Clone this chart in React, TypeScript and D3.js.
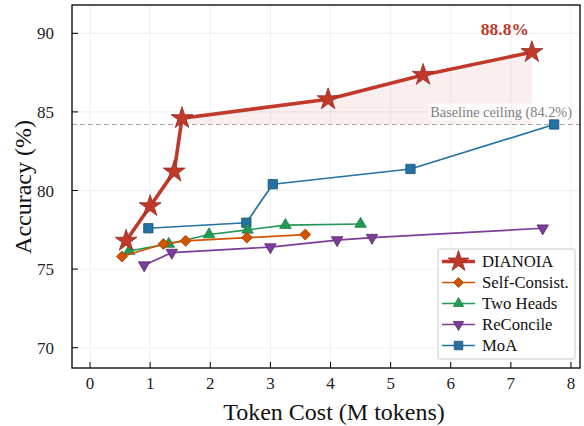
import React from "react";
import * as d3 from "d3";

const xTicks = [0, 1, 2, 3, 4, 5, 6, 7, 8];
const yTicks = [70, 75, 80, 85, 90];

const dianoiaX = [0.6, 1.0, 1.4, 1.53, 3.96, 5.54, 7.35];
const dianoiaY = [76.8, 79.0, 81.2, 84.6, 85.8, 87.35, 88.8];

const selfX = [0.53, 1.22, 1.59, 2.61, 3.58];
const selfY = [75.8, 76.6, 76.8, 77.0, 77.2];

const twoX = [0.65, 1.31, 1.98, 2.62, 3.25, 4.5];
const twoY = [76.15, 76.6, 77.2, 77.5, 77.8, 77.87];

const recX = [0.9, 1.36, 3.0, 4.11, 4.69, 7.53];
const recY = [75.25, 76.05, 76.4, 76.85, 77.0, 77.6];

const moaX = [0.97, 2.6, 3.04, 5.33, 7.72];
const moaY = [77.6, 77.95, 80.4, 81.37, 84.2];

const baseline = 84.2;

type Series = {
  name: string;
  xs: number[];
  ys: number[];
  color: string;
  edge: string;
  marker: string;
  lw: number;
  size: number;
};

const series: Series[] = [
  { name: "MoA", xs: moaX, ys: moaY, color: "#2471a3", edge: "#1a5276", marker: "square", lw: 1.7, size: 11 },
  { name: "ReConcile", xs: recX, ys: recY, color: "#7d3c98", edge: "#5b2c6f", marker: "tridown", lw: 1.7, size: 11 },
  { name: "Two Heads", xs: twoX, ys: twoY, color: "#229954", edge: "#1e8449", marker: "triup", lw: 1.7, size: 11 },
  { name: "Self-Consist.", xs: selfX, ys: selfY, color: "#d35400", edge: "#a04000", marker: "diamond", lw: 1.7, size: 11 },
  { name: "DIANOIA", xs: dianoiaX, ys: dianoiaY, color: "#c0392b", edge: "#922b21", marker: "star", lw: 3.6, size: 23 },
];

const legendOrder = ["DIANOIA", "Self-Consist.", "Two Heads", "ReConcile", "MoA"];

function markerPath(kind: string, size: number): { d: string; rot: number } {
  if (kind === "star") {
    const r = size / 2;
    return { d: d3.symbol(d3.symbolStar, (r * r) / 0.8908130915292852)() || "", rot: 0 };
  }
  if (kind === "square") {
    const s = size * 0.85;
    return { d: d3.symbol(d3.symbolSquare, s * s)() || "", rot: 0 };
  }
  if (kind === "diamond") {
    const s = size * 0.7;
    return { d: d3.symbol(d3.symbolSquare, s * s)() || "", rot: 45 };
  }
  const side = size * 1.05;
  const area = (Math.sqrt(3) / 4) * side * side;
  return { d: d3.symbol(d3.symbolTriangle, area)() || "", rot: kind === "tridown" ? 180 : 0 };
}

export default function App() {
  const W = 584;
  const H = 426;
  const left = 72;
  const right = 580;
  const top = 5;
  const bottom = 368;
  const font = "Liberation Serif, Times New Roman, serif";

  const x = d3.scaleLinear().domain([-0.3, 8.15]).range([left, right]);
  const y = d3.scaleLinear().domain([68.71, 91.8]).range([bottom, top]);

  const line = d3
    .line<[number, number]>()
    .x((d) => x(d[0]))
    .y((d) => y(d[1]));

  const fillPts: [number, number][] = dianoiaX
    .map((v, i) => [v, dianoiaY[i]] as [number, number])
    .filter((p) => p[1] >= baseline);
  const area = d3
    .area<[number, number]>()
    .x((d) => x(d[0]))
    .y0(y(baseline))
    .y1((d) => y(d[1]));

  const legX = 438;
  const legY = 249;
  const legW = 137;
  const legH = 110;
  const rowH = 21;

  return (
    <div style={{ position: "absolute", left: 0, top: 0 }}>
      <svg width={W} height={H} style={{ display: "block", background: "#fff", fontFamily: font }}>
        <defs>
          <clipPath id="plotclip">
            <rect x={left} y={top} width={right - left} height={bottom - top} />
          </clipPath>
        </defs>
        {xTicks.map((t) => (
          <line key={"gx" + t} x1={x(t)} x2={x(t)} y1={top} y2={bottom} stroke="#ebebeb" strokeWidth={0.8} />
        ))}
        {yTicks.map((t) => (
          <line key={"gy" + t} x1={left} x2={right} y1={y(t)} y2={y(t)} stroke="#ebebeb" strokeWidth={0.8} />
        ))}
        <g clipPath="url(#plotclip)">
          <path d={area(fillPts) || ""} fill="#c0392b" fillOpacity={0.08} />
          <line x1={left} x2={right} y1={y(baseline)} y2={y(baseline)} stroke="#aaaaaa" strokeWidth={1.2} strokeDasharray="5,3" />
          <rect x={429} y={y(baseline) - 21} width={144} height={17} fill="#ffffff" fillOpacity={0.75} />
          <text x={572} y={y(baseline) - 7} textAnchor="end" fontSize={14.3} fill="#808080">
            Baseline ceiling (84.2%)
          </text>
          {series.map((s) => {
            const pts = s.xs.map((v, i) => [v, s.ys[i]] as [number, number]);
            const m = markerPath(s.marker, s.size);
            return (
              <g key={s.name}>
                <path d={line(pts) || ""} fill="none" stroke={s.color} strokeWidth={s.lw} strokeLinejoin="round" />
                {pts.map((p, i) => (
                  <path
                    key={i}
                    d={m.d}
                    transform={`translate(${x(p[0])},${y(p[1])}) rotate(${m.rot})`}
                    fill={s.color}
                    stroke={s.edge}
                    strokeWidth={0.8}
                  />
                ))}
              </g>
            );
          })}
          <text x={x(7.35) - 27} y={35} textAnchor="middle" fontSize={17.5} fontWeight="bold" fill="#c0392b">
            88.8%
          </text>
        </g>
        <rect x={left} y={top} width={right - left} height={bottom - top} fill="none" stroke="#000" strokeWidth={1.3} />
        {xTicks.map((t) => (
          <g key={"tx" + t}>
            <line x1={x(t)} x2={x(t)} y1={bottom} y2={bottom - 6} stroke="#000" strokeWidth={1} />
            <text x={x(t)} y={389} textAnchor="middle" fontSize={17} fill="#222">
              {t}
            </text>
          </g>
        ))}
        {yTicks.map((t) => (
          <g key={"ty" + t}>
            <line x1={left} x2={left + 6} y1={y(t)} y2={y(t)} stroke="#000" strokeWidth={1} />
            <text x={54} y={y(t) + 6} textAnchor="end" fontSize={17} fill="#222">
              {t}
            </text>
          </g>
        ))}
        <text x={334} y={420} textAnchor="middle" fontSize={24} fill="#111">
          Token Cost (M tokens)
        </text>
        <text transform={`translate(31,187) rotate(-90)`} textAnchor="middle" fontSize={24} fill="#111">
          Accuracy (%)
        </text>
        <rect x={legX} y={legY} width={legW} height={legH} rx={2} fill="#ffffff" fillOpacity={0.9} stroke="#cccccc" strokeWidth={1} />
        {legendOrder.map((name, i) => {
          const s = series.find((q) => q.name === name)!;
          const cy = legY + 12.5 + i * rowH;
          const m = markerPath(s.marker, s.marker === "star" ? 22 : 10);
          return (
            <g key={name}>
              <line x1={legX + 4} x2={legX + 37} y1={cy} y2={cy} stroke={s.color} strokeWidth={s.lw} />
              <path
                d={m.d}
                transform={`translate(${legX + 20.5},${cy}) rotate(${m.rot})`}
                fill={s.color}
                stroke={s.edge}
                strokeWidth={0.8}
              />
              <text x={legX + 44} y={cy + 5.5} fontSize={16.7} fill="#111">
                {name}
              </text>
            </g>
          );
        })}
      </svg>
    </div>
  );
}
